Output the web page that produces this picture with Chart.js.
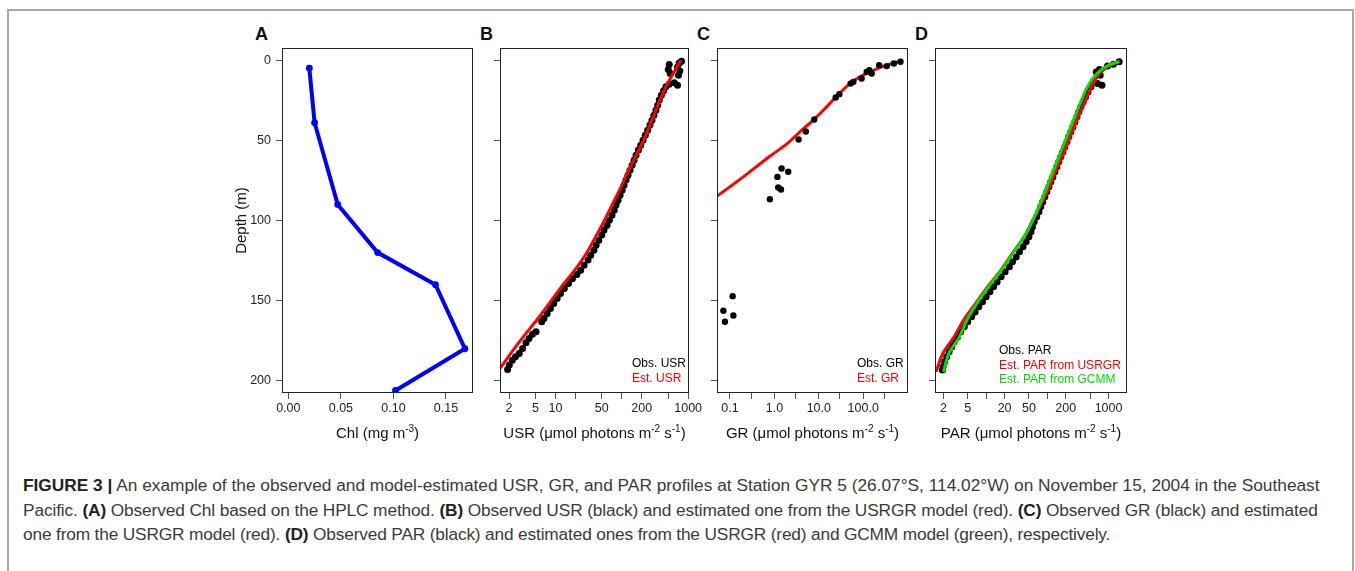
<!DOCTYPE html>
<html>
<head>
<meta charset="utf-8">
<script src="https://cdn.jsdelivr.net/npm/chart.js@4.4.1/dist/chart.umd.min.js"></script>
<style>
  html, body { margin: 0; padding: 0; background: #fff; }
  body { width: 1355px; height: 571px; position: relative; overflow: hidden; font-family: "Liberation Sans", Arial, sans-serif; }
  .frame { position: absolute; left: 7px; top: 9px; width: 1347px; height: 600px; border: 2px solid #a8a8a8; border-bottom: none; box-sizing: border-box; }
  canvas { position: absolute; top: 20px; }
  .tag { position: absolute; top: 25px; font: bold 18px/18px "Liberation Sans", Arial, sans-serif; color: #111; }
  .caption { position: absolute; left: 23px; top: 473px; font-size: 17.3px; line-height: 24.5px; color: #3a3a3a; white-space: nowrap; }
  .caption b { color: #222; }
  .l2 { letter-spacing: -0.12px; }
  .l3 { letter-spacing: -0.16px; }
</style>
</head>
<body>
<div class="frame"></div>

<div class="tag" style="left:255px">A</div>
<div class="tag" style="left:480px">B</div>
<div class="tag" style="left:697px">C</div>
<div class="tag" style="left:915px">D</div>

<canvas id="chartA" width="278" height="430" style="left:220px"></canvas>
<canvas id="chartB" width="276" height="430" style="left:438px"></canvas>
<canvas id="chartC" width="278" height="430" style="left:655px"></canvas>
<canvas id="chartD" width="279" height="430" style="left:873px"></canvas>

<div class="caption">
<span><b>FIGURE 3 |</b> An example of the observed and model-estimated USR, GR, and PAR profiles at Station GYR 5 (26.07°S, 114.02°W) on November 15, 2004 in the Southeast</span><br>
<span class="l2">Pacific. <b>(A)</b> Observed Chl based on the HPLC method. <b>(B)</b> Observed USR (black) and estimated one from the USRGR model (red). <b>(C)</b> Observed GR (black) and estimated</span><br>
<span class="l3">one from the USRGR model (red). <b>(D)</b> Observed PAR (black) and estimated ones from the USRGR (red) and GCMM model (green), respectively.</span>
</div>

<script>
// depth axis (shared by all panels)
const DEPTH_TICKS = [0, 50, 100, 150, 200];

// A - chlorophyll profile
const CHL = [0.020, 0.025, 0.047, 0.085, 0.140, 0.168, 0.102];
const CHL_DEPTH = [5, 39, 90, 120, 140, 180, 206];
const CHL_TICKS = [0, 0.05, 0.10, 0.15];
const CHL_TICK_LABELS = ['0.00', '0.05', '0.10', '0.15'];

// B - USR observed and estimated
const USR_OBS = [794, 733, 692, 750, 716, 519, 501, 537, 692, 617, 519, 462, 427, 394, 367,
  347, 327, 305, 285, 266, 245, 226, 209, 193, 178, 164, 153, 143, 133, 124,
  116, 108, 101, 94, 88, 82, 77, 71, 65, 60, 54, 50, 45, 41, 38,
  34, 31, 27, 24, 21, 18, 15.7, 13.6, 11.9, 10.6, 9.4, 8.4, 7.5, 6.7, 6.2,
  5.1, 4.5, 4.0, 3.6, 3.2, 2.85, 2.5, 2.24, 2.02, 1.9];
const USR_OBS_DEPTH = [0.6, 1.7, 4.2, 6.7, 9.4, 2.7, 5.8, 8.3, 15.6, 14.1, 15.0, 16.6, 19.1, 21.8, 24.9,
  28.1, 31.2, 34.3, 37.4, 40.5, 43.7, 46.8, 49.9, 53.0, 56.1, 59.3, 62.4, 65.5, 68.6, 71.7,
  74.8, 78.0, 81.1, 84.2, 87.3, 90.4, 93.6, 96.7, 99.8, 102.9, 106, 109.1, 112.3, 115.4, 118.5,
  121.6, 124.7, 127.9, 131.0, 133.7, 136.4, 139.3, 142.4, 145.5, 148.6, 151.8, 154.9, 158, 161.1, 163.2,
  169.4, 170.9, 173.6, 176.3, 179.8, 183, 185, 187.1, 190.2, 192.9];
const USR_EST = [1.46, 2.11, 3.27, 5.19, 8.04, 12.3, 19.5, 29.2, 40.3, 55, 73.3, 97.7, 127, 170, 224, 285, 359, 462, 596, 750, 776];
const USR_EST_DEPTH = [192.3, 183.0, 172.6, 162.2, 151.8, 141.4, 131.0, 120.6, 110.2, 99.8, 89.4, 79.0, 68.6, 58.2, 47.8, 37.4, 27.0, 16.6, 8.3, 1.0, 0];

// C - GR observed and estimated
const GR_OBS = [690, 490, 339, 229, 155, 137, 120, 92, 60, 52, 29, 24, 7.9, 5.1, 3.5,
  1.45, 2.05, 1.17, 1.22, 1.41, 0.79, 0.115, 0.071, 0.077, 0.119];
const GR_OBS_DEPTH = [1.0, 2.1, 3.7, 3.1, 8.3, 6.2, 7.3, 11.4, 13.5, 14.6, 21.2, 23.3, 37, 44.5, 49.5,
  67.6, 69.6, 72.8, 79.4, 80.7, 86.7, 147.2, 156.3, 163.2, 159.3];
const GR_EST = [0.0527, 0.2, 0.79, 1.88, 3.76, 7.5, 15, 30, 50, 84, 141, 237, 398, 730];
const GR_EST_DEPTH = [84.6, 72.8, 59.9, 52.4, 44.7, 37.4, 29.1, 20.4, 14.6, 10.4, 7.3, 4.6, 2.5, 0.6];

// D - PAR observed and estimated by two models
const PAR_OBS = [1490, 1200, 960, 710, 630, 730, 780, 660, 570, 515, 460, 420, 385, 353, 327,
  304, 282, 261, 242, 224, 209, 193, 179, 166, 154, 143, 133, 123, 114, 106,
  98, 91, 84, 78, 73, 67, 61, 57, 54, 50, 45, 40, 35, 31, 27,
  24, 20.4, 17.6, 15.1, 13.2, 11.5, 10, 8.7, 7.6, 6.6, 5.8, 5.0, 4.4, 3.85, 3.4,
  3.0, 2.75, 2.48, 2.27, 2.1, 1.98, 1.93];
const PAR_OBS_DEPTH = [1.0, 2.5, 3.7, 5.8, 7.3, 9.4, 15.6, 14.6, 13.1, 16.6, 19.8, 22.9, 26, 29.1, 32.2,
  35.3, 38.5, 41.6, 44.7, 47.8, 50.9, 54.1, 57.2, 60.3, 63.4, 66.5, 69.6, 72.8, 75.9, 79,
  82.1, 85.2, 88.4, 91.5, 94.6, 97.7, 100.8, 104, 107, 110.2, 113.3, 116.4, 119.5, 122.7, 125.8,
  128.9, 132, 135.1, 138.3, 141.4, 144.5, 147.6, 150.7, 153.8, 157, 160.1, 163.2, 166.3, 169.4, 172.6,
  175.7, 178.8, 181.9, 185, 188.1, 191.3, 193.3];
const MODEL_DEPTH = [194.4, 183.0, 172.6, 162.2, 151.8, 141.4, 131.0, 120.6, 110.2, 99.8, 89.4,
  79.0, 68.6, 58.2, 47.8, 37.4, 27.0, 16.6, 8.3, 3.1, 0.8];
const PAR_USRGR = [1.52, 1.96, 3.0, 4.26, 6.7, 10.5, 17.4, 26.6, 41.8, 57.9, 80.3,
  108, 139, 184, 236, 303, 400, 527, 713, 1064, 1550];
const PAR_GCMM = [2.01, 2.45, 3.66, 4.83, 7.03, 10.9, 17.8, 27.3, 41.8, 57.9, 76.4,
  98.2, 126, 162, 208, 268, 344, 454, 645, 1000, 1493];

// log axis ticks
const LOG_TICKS = [2, 5, 10, 20, 50, 100, 200, 500, 1000];
const USR_TICK_LABELS = ['2', '5', '10', '', '50', '', '200', '', '1000'];
const PAR_TICK_LABELS = ['2', '5', '', '20', '50', '', '200', '', '1000'];
const GR_TICKS = [0.1, 0.3, 1, 3, 10, 30, 100, 300];
const GR_TICK_LABELS = ['0.1', '', '1.0', '', '10.0', '', '100.0', ''];

const FONT = '"Liberation Sans", Arial, sans-serif';
Chart.defaults.font.family = FONT;
Chart.defaults.color = '#222';

// axis titles (with superscripts) and in-plot legends, per canvas
const PANEL_TEXT = {
  chartA: { title: [['Chl (mg m'], ['-3', 1], [')']], legend: [] },
  chartB: { title: [['USR (μmol photons m'], ['-2', 1], [' s'], ['-1', 1], [')']],
    legend: [['Obs. USR', '#000', 132, 29], ['Est. USR', '#ff0000', 132, 14]] },
  chartC: { title: [['GR (μmol photons m'], ['-2', 1], [' s'], ['-1', 1], [')']],
    legend: [['Obs. GR', '#000', 140, 29], ['Est. GR', '#ff0000', 140, 14]] },
  chartD: { title: [['PAR (μmol photons m'], ['-2', 1], [' s'], ['-1', 1], [')']],
    legend: [['Obs. PAR', '#000', 64, 42], ['Est. PAR from USRGR', '#ff0000', 64, 27.5], ['Est. PAR from GCMM', '#00e000', 64, 13]] }
};

const boxPlugin = {
  id: 'rbox',
  afterDatasetsDraw(chart) {
    const { ctx, chartArea: a } = chart;
    ctx.save();
    ctx.strokeStyle = '#222';
    ctx.lineWidth = 1;
    ctx.strokeRect(a.left + 0.5, a.top + 0.5, a.right - a.left - 1, a.bottom - a.top - 1);
    ctx.restore();
  },
  afterDraw(chart) {
    const { ctx, chartArea: a } = chart;
    const txt = PANEL_TEXT[chart.canvas.id];
    ctx.save();
    ctx.textAlign = 'left';
    ctx.textBaseline = 'middle';
    ctx.fillStyle = '#111';
    const base = '15px ' + FONT, sup = '10px ' + FONT;
    let w = 0;
    txt.title.forEach(s => { ctx.font = s[1] ? sup : base; w += ctx.measureText(s[0]).width; });
    let x = (a.left + a.right) / 2 - w / 2;
    const y = 414;
    txt.title.forEach(s => {
      ctx.font = s[1] ? sup : base;
      ctx.fillText(s[0], x, s[1] ? y - 5 : y);
      x += ctx.measureText(s[0]).width;
    });
    ctx.font = '12px ' + FONT;
    txt.legend.forEach(l => {
      ctx.fillStyle = l[1];
      ctx.fillText(l[0], a.left + l[2], a.bottom - l[3]);
    });
    ctx.restore();
  }
};

function pts(xs, ys) {
  return xs.map((x, i) => ({ x: x, y: ys[i] }));
}

function xAxis(type, min, max, ticks, labels) {
  return {
    type: type, min: min, max: max,
    afterBuildTicks: s => { s.ticks = ticks.map(v => ({ value: v })); },
    afterFit: s => { s.height = 57; s.paddingLeft = 0; s.paddingRight = 0; },
    grid: { drawOnChartArea: false, tickLength: 6, color: '#555' },
    border: { display: false },
    ticks: { autoSkip: false, maxRotation: 0, minRotation: 0, padding: 2, color: '#222',
      font: { size: 12.5 }, callback: (v, i) => labels[i] }
  };
}

function yAxis(showLabels) {
  return {
    type: 'linear', reverse: true, min: -7.6, max: 207.6,
    afterBuildTicks: s => { s.ticks = DEPTH_TICKS.map(v => ({ value: v })); },
    afterFit: s => { s.width = 62; s.paddingTop = 0; s.paddingBottom = 0; },
    grid: { drawOnChartArea: false, tickLength: 6, color: '#555' },
    border: { display: false },
    ticks: { autoSkip: false, padding: 5, color: '#222', font: { size: 12.5 },
      callback: v => showLabels ? String(v) : '' },
    title: { display: showLabels, text: 'Depth (m)', color: '#111', font: { size: 15 },
      padding: { top: 13, bottom: 0 } }
  };
}

function makePanel(id, datasets, x, showY) {
  return new Chart(document.getElementById(id), {
    type: 'scatter',
    data: { datasets: datasets },
    options: {
      responsive: false,
      animation: false,
      events: [],
      layout: { padding: { left: 0, top: 28, right: 25, bottom: 0 } },
      plugins: { legend: { display: false }, tooltip: { enabled: false } },
      scales: { x: x, y: yAxis(showY) }
    },
    plugins: [boxPlugin]
  });
}

const dots = (data, order, r) => ({
  data: data, order: order, showLine: false,
  pointRadius: r || 3.5, pointBackgroundColor: '#000', pointBorderWidth: 0
});
const curve = (data, color, order) => ({
  data: data, order: order, showLine: true, tension: 0.3,
  borderColor: color, borderWidth: 3, pointRadius: 0
});

makePanel('chartA', [{
  data: pts(CHL, CHL_DEPTH), showLine: true, tension: 0,
  borderColor: '#0000ff', borderWidth: 4,
  pointRadius: 3.4, pointBackgroundColor: '#0000ff', pointBorderWidth: 0
}], xAxis('linear', -0.006, 0.1757, CHL_TICKS, CHL_TICK_LABELS), true);

makePanel('chartB', [
  curve(pts(USR_EST, USR_EST_DEPTH), '#ff0000', 1),
  dots(pts(USR_OBS, USR_OBS_DEPTH), 2)
], xAxis('logarithmic', 1.46, 1030, LOG_TICKS, USR_TICK_LABELS), false);

makePanel('chartC', [
  dots(pts(GR_OBS, GR_OBS_DEPTH), 1, 3.2),
  curve(pts(GR_EST, GR_EST_DEPTH), '#ff0000', 2)
], xAxis('logarithmic', 0.051, 1020, GR_TICKS, GR_TICK_LABELS), false);

makePanel('chartD', [
  curve(pts(PAR_GCMM, MODEL_DEPTH), '#00e000', 1),
  curve(pts(PAR_USRGR, MODEL_DEPTH), '#ff0000', 2),
  dots(pts(PAR_OBS, PAR_OBS_DEPTH), 3)
], xAxis('logarithmic', 1.46, 2000, LOG_TICKS, PAR_TICK_LABELS), false);
</script>
</body>
</html>
